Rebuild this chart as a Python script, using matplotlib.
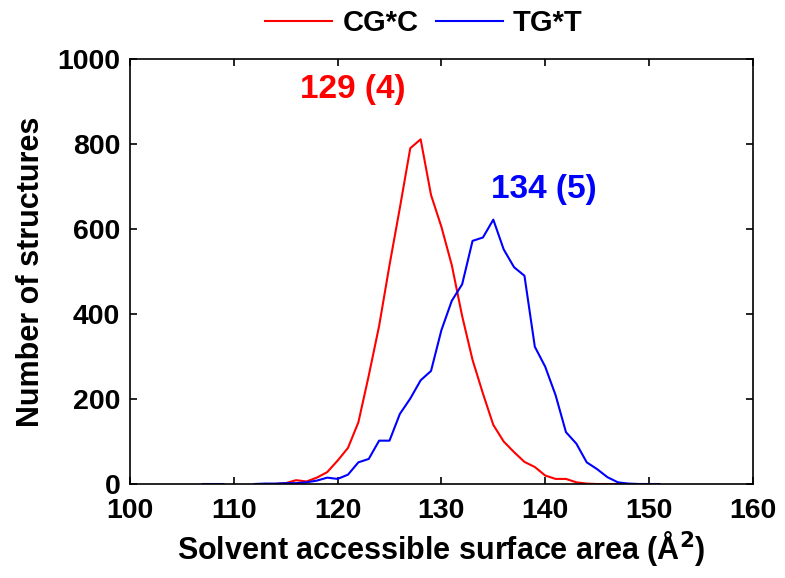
import numpy as np
import matplotlib
matplotlib.use("Agg")
import matplotlib.pyplot as plt

plt.rcParams['font.family'] = ['Liberation Sans', 'DejaVu Sans']
plt.rcParams['font.weight'] = 'bold'

# Data
x_cgc = [113, 114, 115, 116, 117, 118, 119, 120, 121, 122, 123, 124, 125, 126, 127, 128,
         129, 130, 131, 132, 133, 134, 135, 136, 137, 138, 139, 140, 141, 142, 143, 144,
         145, 146, 147, 148, 149, 150]
y_cgc = [0, 0, 2, 9, 6, 15, 28, 55, 85, 145, 255, 372, 515, 650, 790, 811,
         680, 605, 515, 395, 292, 213, 139, 100, 75, 52, 40, 20, 12, 12, 4, 1,
         0, 0, 0, 0, 0, 0]

x_tgt = [107, 108, 109, 110, 111, 112, 113, 114, 115, 116, 117, 118, 119, 120, 121, 122,
         123, 124, 125, 126, 127, 128, 129, 130, 131, 132, 133, 134, 135, 136, 137, 138,
         139, 140, 141, 142, 143, 144, 145, 146, 147, 148, 149, 150, 151]
y_tgt = [0, 0, 0, np.nan, np.nan, 0, 1, 1, 2, 2, 4, 8, 15, 12, 22, 51,
         59, 102, 102, 165, 201, 244, 266, 362, 431, 470, 572, 580, 622, 552, 510, 490,
         323, 276, 209, 122, 95, 51, 35, 16, 4, 1, 0, 0, 0]

labels = ["CG*C", "TG*T"]
colors = ["#ff0000", "#0000ff"]
ann_text = ["129 (4)", "134 (5)"]
ann_pos = [(121.5, 927), (139.9, 692)]

xticks = [100, 110, 120, 130, 140, 150, 160]
yticks = [0, 200, 400, 600, 800, 1000]

fig = plt.figure(figsize=(7.85, 5.78), dpi=100)
ax = fig.add_axes([0.1656, 0.1626, 0.7934, 0.7354])

l1, = ax.plot(x_cgc, y_cgc, color=colors[0], lw=1.5, label=labels[0])
l2, = ax.plot(x_tgt, y_tgt, color=colors[1], lw=1.5, label=labels[1])

for (tx, ty), t, c in zip(ann_pos, ann_text, colors):
    ax.text(tx, ty, t, color=c, fontsize=24, fontweight='bold', ha='center', va='center')

ax.set_xlim(100, 160)
ax.set_ylim(0, 1000)
ax.set_xticks(xticks)
ax.set_yticks(yticks)
ax.tick_params(direction='in', top=True, right=True, length=5, width=1.2,
               labelsize=20.5)
ax.tick_params(axis='x', pad=10)
ax.tick_params(axis='y', pad=7)
for lab in ax.get_xticklabels() + ax.get_yticklabels():
    lab.set_fontweight('bold')
for s in ax.spines.values():
    s.set_linewidth(1.2)

ax.set_xlabel("Solvent accessible surface area (Å$^\\mathbf{2}$)", fontsize=22,
              fontweight='bold', labelpad=4)
ax.set_ylabel("Number of structures", fontsize=22, fontweight='bold', labelpad=8)

fig.legend(handles=[l1, l2], labels=labels, loc='center', bbox_to_anchor=(0.54, 0.96),
           ncol=2, frameon=False, handlelength=2.3, handletextpad=0.35,
           columnspacing=0.6, prop={'weight': 'bold', 'size': 21})

fig.savefig("out.png", dpi=100)
